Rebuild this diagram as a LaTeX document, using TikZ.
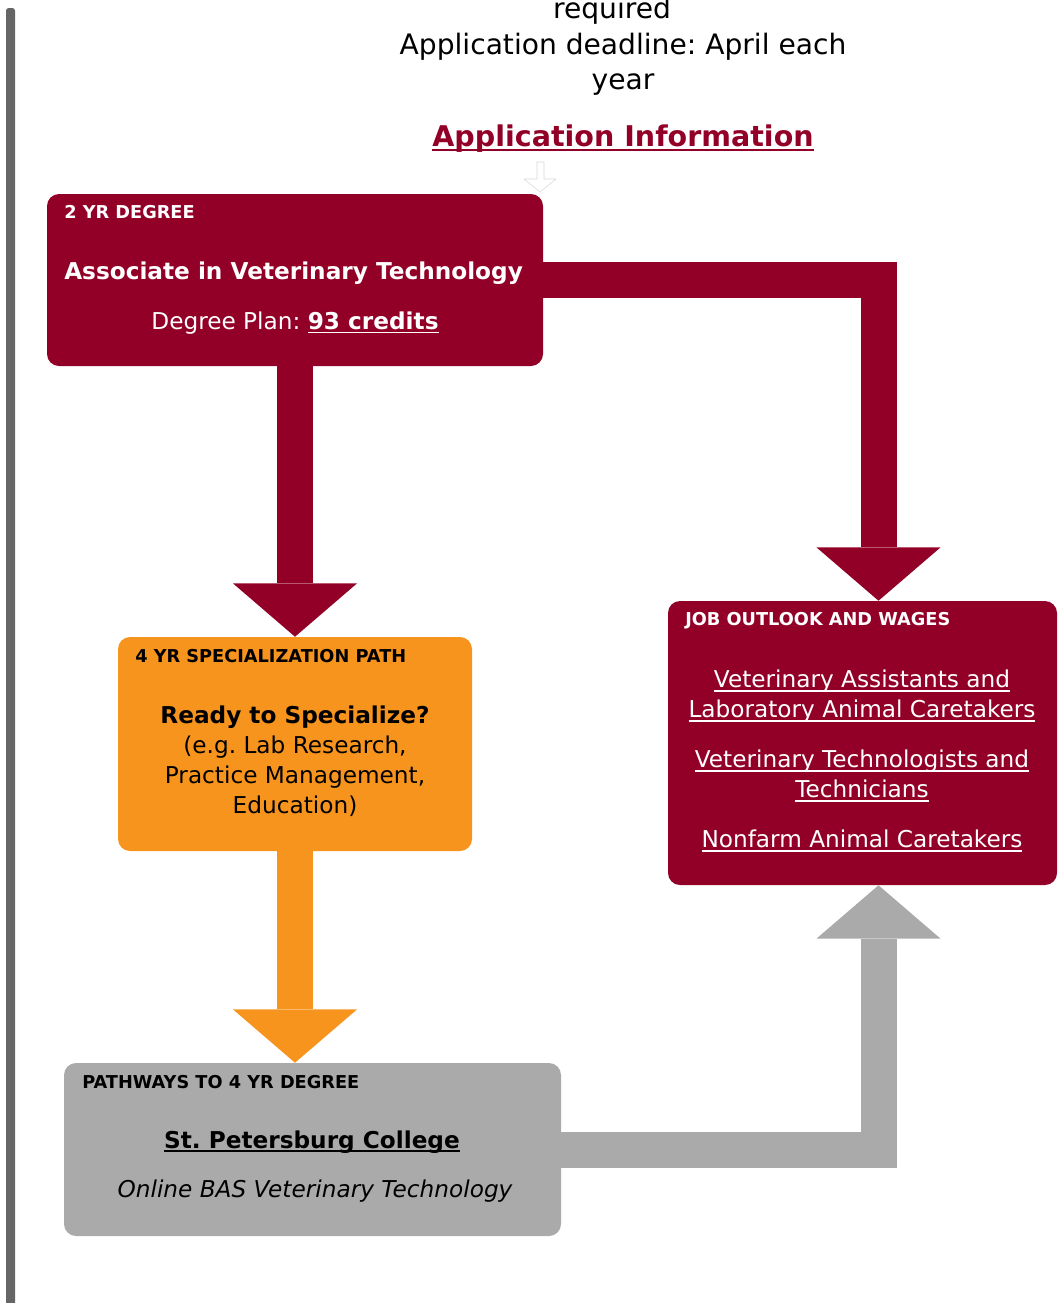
\documentclass[tikz,border=0pt]{standalone}
\usepackage{fontspec}
\setmainfont{DejaVu Sans}
\usetikzlibrary{arrows.meta}
\definecolor{wine}{HTML}{930027}
\definecolor{amber}{HTML}{F7941E}
\definecolor{stone}{HTML}{AAAAAA}
\definecolor{rail}{HTML}{666666}
\definecolor{ghost}{HTML}{D8D8D8}
\newcommand\linkul[2][1.1pt]{\setbox0=\hbox{#2}\rlap{\rule[-3pt]{\wd0}{#1}}\box0}
\frenchspacing

\begin{document}
\begin{tikzpicture}[
  x=0.75pt, y=-0.75pt,
  font=\fontsize{17.4}{22.5}\selectfont,
  box/.style={rounded corners=9pt, inner sep=0pt},
  winebox/.style={box, fill=wine},
  amberbox/.style={box, fill=amber},
  stonebox/.style={box, fill=stone},
  tag/.style={font=\fontsize{13.3}{15}\selectfont\bfseries, anchor=west, inner sep=0pt},
  body/.style={align=center, inner sep=0pt},
  top/.style={body, font=\fontsize{21.1}{26}\selectfont},
  flow/.style={line width=27pt, line join=miter,
    -{Triangle[width=93pt, length=40pt, line width=0pt]}}
]
\useasboundingbox (0,0) rectangle (1058,1303);

% side rail and heading text
\fill[rail, rounded corners=2pt] (6,8) rectangle (15,1310);
\node[top] (req) at (612,11) {required};
\node[top] (deadline) at (623,64.5) {Application deadline: April each\\year};
\node[top, text=wine, font=\fontsize{21.4}{26}\selectfont\bfseries] (appinfo) at (623,139) {\linkul[1.5pt]{Application Information}};
\draw[ghost, fill=white] (537,162) -- (544,162) -- (544,179) -- (556,179) -- (540,192)
  -- (524,179) -- (537,179) -- cycle;

% boxes
\node[winebox, minimum width=372pt, minimum height=129pt] (deg) at (295,280) {};
\node[tag, text=white] (degtag) at (64,212) {2 YR DEGREE};
\node[body, anchor=west, text=white] (degname) at (64,273) {\bfseries Associate in Veterinary Technology};
\node[body, text=white] (degplan) at (295,323) {Degree Plan: \textbf{\linkul[1.4pt]{93 credits}}};

\node[amberbox, minimum width=265.5pt, minimum height=160.5pt] (spec) at (295,744) {};
\node[tag] (spectag) at (135,656) {4 YR SPECIALIZATION PATH};
\node[body] (spectext) at (295,761) {\textbf{Ready to Specialize?}\\(e.g. Lab Research,\\Practice Management,\\Education)};

\node[stonebox, minimum width=372.75pt, minimum height=129.75pt] (path) at (312.5,1149.5) {};
\node[tag] (pathtag) at (82,1082) {PATHWAYS TO 4 YR DEGREE};
\node[body] (college) at (312,1142) {\textbf{\linkul[1.4pt]{St. Petersburg College}}};
\node[body] (bas) at (315,1191) {\itshape Online BAS Veterinary Technology};

\node[winebox, minimum width=291.75pt, minimum height=213pt] (job) at (862.5,743) {};
\node[tag, text=white] (jobtag) at (685,621) {JOB OUTLOOK AND WAGES};
\node[body, text=white] (joblinks) at (862,761) {\linkul{Veterinary Assistants and}\\\linkul{Laboratory Animal Caretakers}\\[15pt]
  \linkul{Veterinary Technologists and}\\\linkul{Technicians}\\[15pt]\linkul{Nonfarm Animal Caretakers}};

% block arrows
\draw[flow, wine] (deg.south) -- (spec.north);
\draw[flow, wine] (deg.east) -| ([xshift=12pt]job.north);
\draw[flow, amber] (spec.south) -- (spec.south |- path.north);
\draw[flow, stone] (path.east) -| ([xshift=12pt]job.south);
\end{tikzpicture}
\end{document}
